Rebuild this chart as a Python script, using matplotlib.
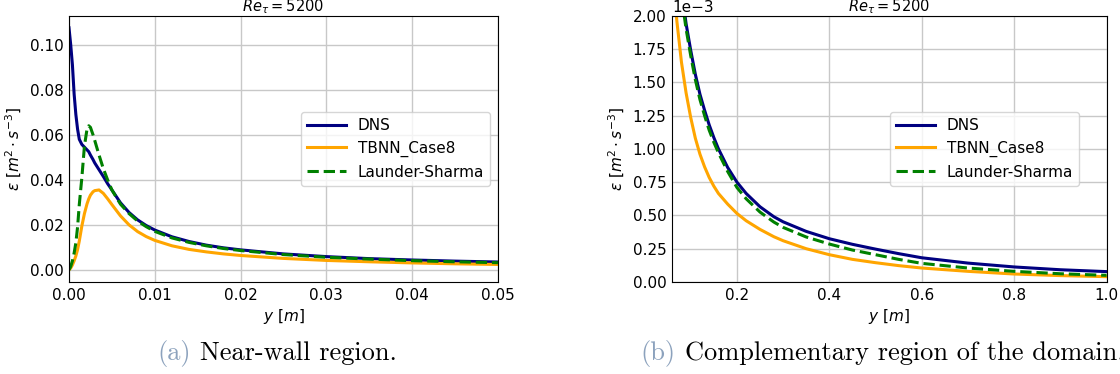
import matplotlib
matplotlib.use('Agg')
import matplotlib.pyplot as plt
import numpy as np

# near-wall region, y in m, epsilon in m^2 s^-3
y_near = [0, 0.0002, 0.0004, 0.0006, 0.0008, 0.001, 0.0012, 0.0015, 0.0018,
          0.0021, 0.0023, 0.0025, 0.0028, 0.003, 0.0035, 0.004, 0.0045, 0.005,
          0.006, 0.007, 0.008, 0.009, 0.010, 0.012, 0.014, 0.016, 0.018,
          0.020, 0.025, 0.030, 0.035, 0.040, 0.045, 0.050]
dns_near = [0.1075, 0.100, 0.091, 0.078, 0.069, 0.0625, 0.058, 0.0557, 0.0545,
            0.0533, 0.0525, 0.0510, 0.0490, 0.0475, 0.0445, 0.0415, 0.0383,
            0.0355, 0.0298, 0.0255, 0.0222, 0.0197, 0.0177, 0.0147, 0.0126,
            0.0110, 0.0098, 0.0089, 0.0071, 0.0059, 0.0050, 0.0044, 0.0039,
            0.0035]
tbnn_near = [0.0, 0.0008, 0.0022, 0.0040, 0.0062, 0.0090, 0.0128, 0.0195,
             0.0250, 0.0293, 0.0315, 0.0332, 0.0347, 0.0352, 0.0355, 0.0340,
             0.0316, 0.0290, 0.0240, 0.0200, 0.0170, 0.0148, 0.0131, 0.0107,
             0.0091, 0.0080, 0.0071, 0.0064, 0.0051, 0.0042, 0.0036, 0.0031,
             0.0027, 0.0024]
ls_near = [0.0, 0.0015, 0.0040, 0.0075, 0.0120, 0.0190, 0.0290, 0.0410,
           0.0550, 0.0625, 0.0640, 0.0633, 0.0600, 0.0575, 0.0510, 0.0450,
           0.0400, 0.0355, 0.0292, 0.0250, 0.0217, 0.0192, 0.0171, 0.0142,
           0.0122, 0.0107, 0.0095, 0.0086, 0.0068, 0.0056, 0.0048, 0.0041,
           0.0036, 0.0032]

# complementary region, epsilon in 1e-3 m^2 s^-3
y_far = [0.06, 0.07, 0.08, 0.09, 0.10, 0.11, 0.12, 0.13, 0.14, 0.15, 0.16,
         0.18, 0.20, 0.22, 0.25, 0.28, 0.30, 0.35, 0.40, 0.45, 0.50, 0.55,
         0.60, 0.70, 0.80, 0.90, 1.00]
dns_far = [2.95, 2.52, 2.2, 1.94, 1.74, 1.56, 1.41, 1.29, 1.18, 1.085, 1.0,
           0.86, 0.75, 0.665, 0.565, 0.49, 0.452, 0.38, 0.325, 0.283, 0.247,
           0.213, 0.182, 0.142, 0.113, 0.092, 0.078]
tbnn_far = [2.37, 1.96, 1.65, 1.42, 1.235, 1.08, 0.96, 0.865, 0.785, 0.72,
            0.665, 0.585, 0.515, 0.46, 0.395, 0.34, 0.31, 0.25, 0.205, 0.17,
            0.145, 0.123, 0.105, 0.08, 0.06, 0.048, 0.04]
ls_far = [2.9, 2.47, 2.15, 1.9, 1.70, 1.52, 1.37, 1.25, 1.14, 1.05, 0.97,
          0.83, 0.71, 0.625, 0.525, 0.45, 0.41, 0.338, 0.285, 0.24, 0.205,
          0.17, 0.14, 0.105, 0.08, 0.062, 0.05]

labels = ['DNS', 'TBNN_Case8', 'Launder-Sharma']
colors = ['#000080', '#FFA500', '#008000']
styles = ['-', '-', '--']

fig = plt.figure(figsize=(11.2, 3.74), dpi=100)
ax1 = fig.add_axes([0.0616, 0.246, 0.383, 0.712])
ax2 = fig.add_axes([0.6, 0.246, 0.388, 0.712])

for vals, lab, c, ls in zip([dns_near, tbnn_near, ls_near], labels, colors, styles):
    ax1.plot(y_near, vals, color=c, linestyle=ls, lw=2.2, label=lab)
for vals, lab, c, ls in zip([dns_far, tbnn_far, ls_far], labels, colors, styles):
    ax2.plot(y_far, np.array(vals) * 1e-3, color=c, linestyle=ls, lw=2.2, label=lab)

ax1.margins(x=0)
ax1.set_xlim(0, 0.05)
ax2.set_xlim(0.0595, 1.0)
ax2.set_ylim(0, 0.002)
ax2.ticklabel_format(axis='y', style='sci', scilimits=(0, 0))

for ax in (ax1, ax2):
    ax.grid(True, color='#c8c8c8', lw=1)
    ax.set_axisbelow(True)
    ax.tick_params(length=0, pad=4, labelsize=11)
    ax.set_xlabel(r'$y\ [m]$', fontsize=11, labelpad=3)
    ax.set_ylabel(r'$\varepsilon\ [m^2 \cdot s^{-3}]$', fontsize=11)
    ax.set_title(r'$Re_{\tau} = 5200$', fontsize=10.5, pad=0.5)
    for sp in ax.spines.values():
        sp.set_color('black')
    ax.yaxis.get_offset_text().set_fontsize(11)

ax1.legend(loc='center right', fontsize=11, handlelength=2.5)
ax2.legend(loc='center right', bbox_to_anchor=(0.955, 0.5), fontsize=11,
           handlelength=2.5)

# subfigure captions
cap_col = '#8ca2bd'
cap_size = 19
base_y = 1 - 360 / 374
fig.text(157 / 1120, base_y, '(a)', family='cmr10', fontsize=cap_size,
         color=cap_col, va='baseline', ha='left')
fig.text(200 / 1120, base_y, 'Near-wall region.', family='cmr10',
         fontsize=cap_size, va='baseline', ha='left')
fig.text(640 / 1120, base_y, '(b)', family='cmr10', fontsize=cap_size,
         color=cap_col, va='baseline', ha='left')
fig.text(685 / 1120, base_y, 'Complementary region of the domain.',
         family='cmr10', fontsize=cap_size, va='baseline', ha='left')

fig.savefig('out.png', dpi=100)
